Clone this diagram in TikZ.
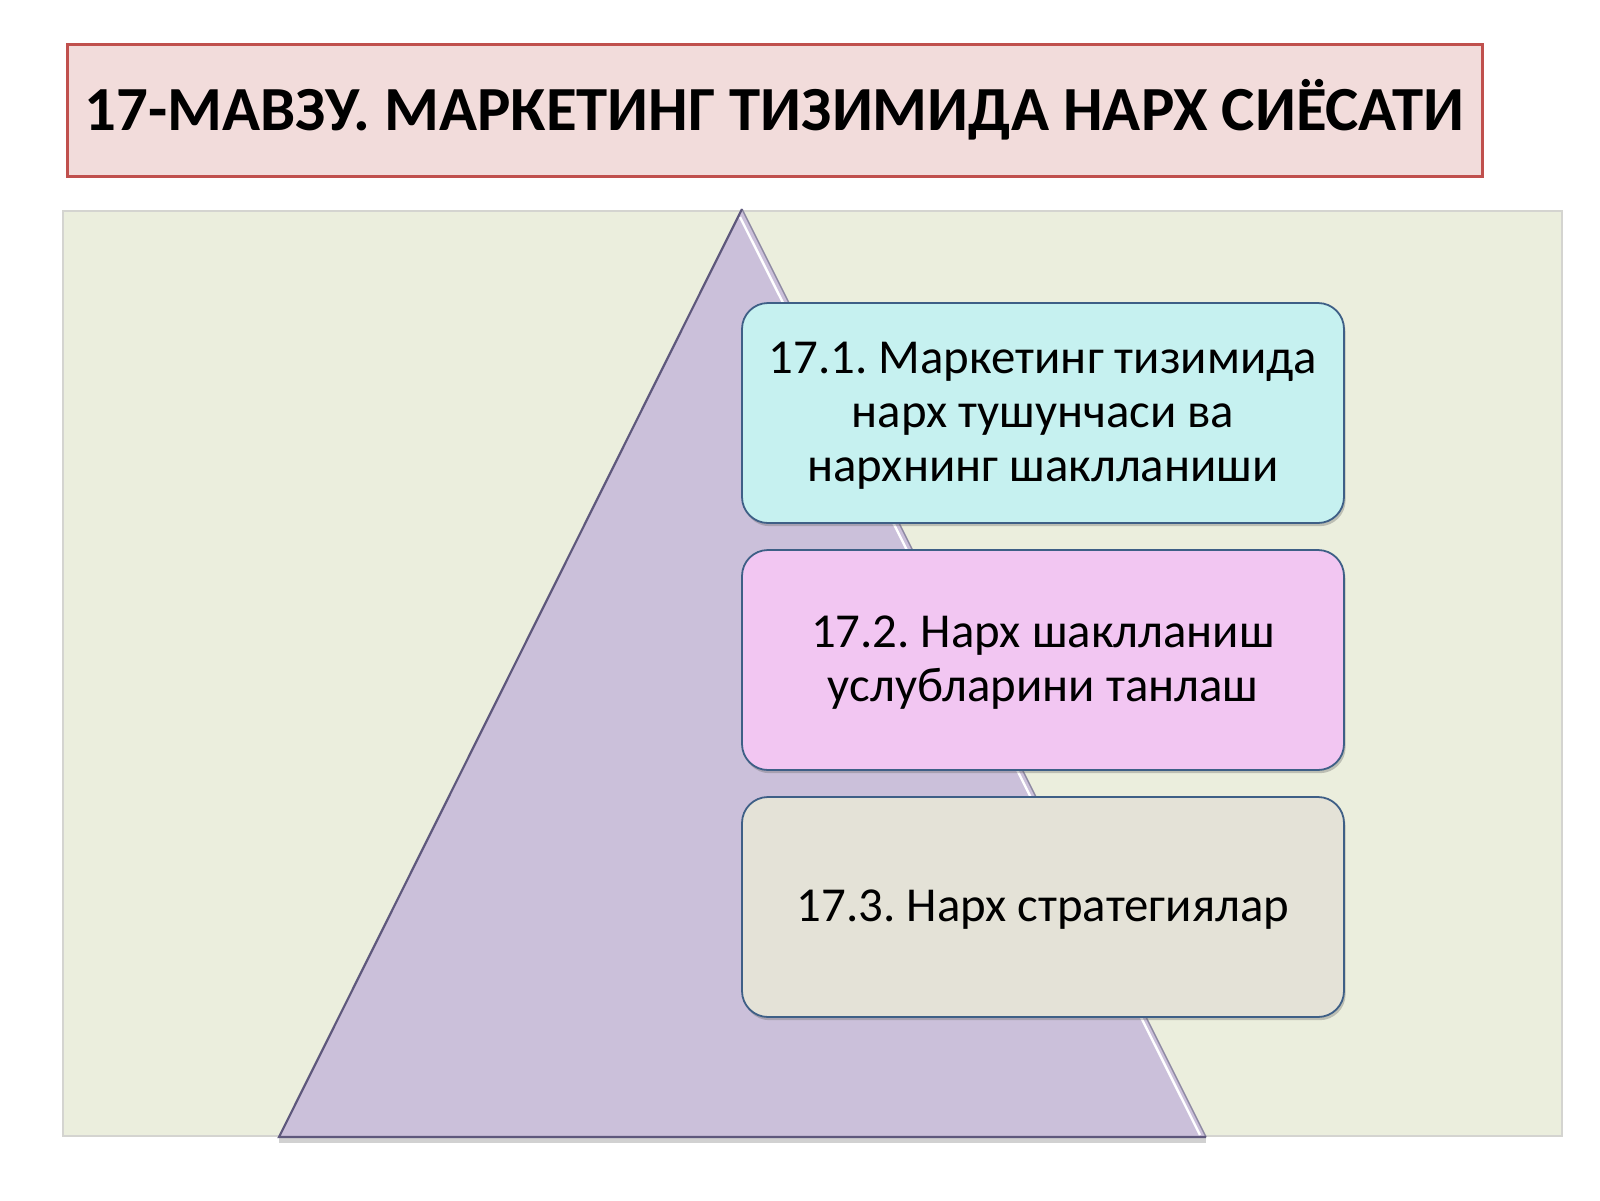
\documentclass[tikz,border=0pt]{standalone}
\usepackage{fontspec}
\setmainfont{Carlito}
\frenchspacing
\usetikzlibrary{shadows,calc}
\definecolor{titlefill}{HTML}{F2DCDB}
\definecolor{titledraw}{HTML}{C0504D}
\definecolor{panelfill}{HTML}{EBEEDD}
\definecolor{paneldraw}{HTML}{D4D4D0}
\definecolor{trifill}{HTML}{CBC0DA}
\definecolor{tridraw}{HTML}{5E587C}
\definecolor{boxdraw}{HTML}{3E5F86}
\definecolor{cyanfill}{HTML}{C6F1F0}
\definecolor{pinkfill}{HTML}{F2C6F2}
\definecolor{greyfill}{HTML}{E4E2D7}
\newcommand{\boxlines}[1]{\raisebox{-2pt}[\height][\depth]{\begin{tabular}{@{}c@{}}#1\end{tabular}}}
\tikzset{
  titlebox/.style={draw=titledraw, line width=1.5pt, fill=titlefill,
    minimum width=707.5pt, minimum height=66pt, inner sep=0pt,
    font=\fontsize{31.4}{36}\selectfont\bfseries},
  topicbox/.style={draw=boxdraw, line width=0.9pt, rounded corners=13pt,
    minimum width=301pt, minimum height=110pt, inner sep=0pt, align=center,
    font=\fontsize{24.4}{27}\selectfont,
    drop shadow={shadow xshift=0.8pt, shadow yshift=-1.6pt, opacity=0.35, fill=black!60}},
}
\begin{document}
\begin{tikzpicture}[x=0.5pt,y=-0.5pt]
\useasboundingbox (0,0) rectangle (1600,1200);
\fill[white] (0,0) rectangle (1600,1200);
% title
\node[titlebox] (title) at (774.5,110) {17-МАВЗУ. МАРКЕТИНГ ТИЗИМИДА НАРХ СИЁСАТИ};
% panel
\draw[paneldraw, fill=panelfill, line width=0.6pt] (63,211) rectangle (1562,1136);
% triangle shadow
\fill[black, opacity=0.18] (279,1137) rectangle (1206,1143);
% triangle
\coordinate (apex) at (742,209);
\coordinate (bl) at (279,1137);
\coordinate (br) at (1206,1137);
\fill[trifill] (apex) -- (bl) -- (br) -- cycle;
\draw[white, line width=1.2pt] ($(apex)+(-2,8)$) -- ($(br)+(-6,-2)$);
\draw[tridraw!70, line width=0.7pt] (apex) -- (br);
\draw[tridraw, line width=1.1pt, line join=miter] (br) -- (bl) -- (apex);
% boxes
\node[topicbox, fill=cyanfill] (b1) at (1043,413) {\boxlines{17.1. Маркетинг тизимида\\нарх тушунчаси ва\\нархнинг шаклланиши}};
\node[topicbox, fill=pinkfill] (b2) at (1043,660) {\boxlines{17.2. Нарх шаклланиш\\услубларини танлаш}};
\node[topicbox, fill=greyfill] (b3) at (1043,907) {\boxlines{17.3. Нарх стратегиялар}};
\end{tikzpicture}
\end{document}
